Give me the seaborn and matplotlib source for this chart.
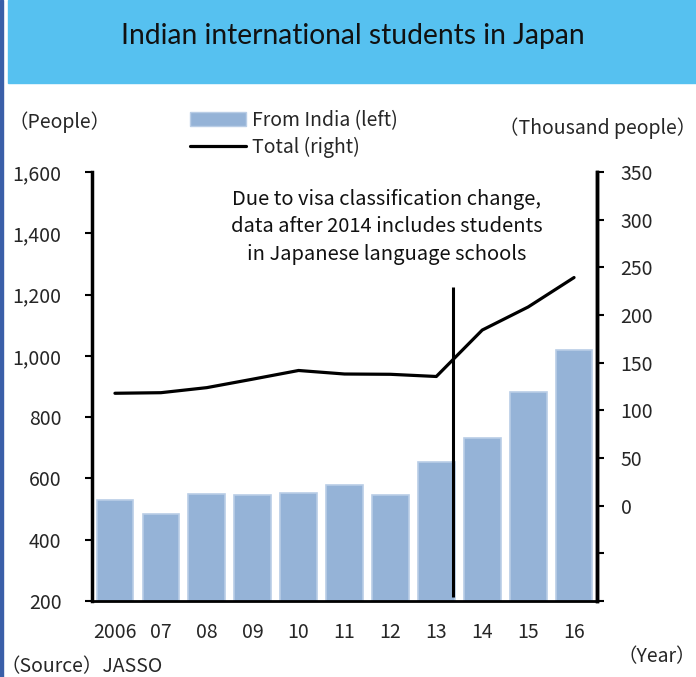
import numpy as np
import pandas as pd
import matplotlib
matplotlib.use("Agg")
import matplotlib.pyplot as plt
import seaborn as sns
from matplotlib.patches import Rectangle
from matplotlib.lines import Line2D

years = ["2006", "07", "08", "09", "10", "11", "12", "13", "14", "15", "16"]
india = [530, 484, 548, 547, 551, 578, 545, 653, 731, 883, 1018]
total = [117.9, 118.5, 123.8, 132.7, 141.8, 138.1, 137.8, 135.5, 184.2, 208.4, 239.3]
left_ticks = [200, 400, 600, 800, 1000, 1200, 1400, 1600]
right_ticks = [-100, -50, 0, 50, 100, 150, 200, 250, 300, 350]

sns.set_theme(style="white")
plt.rcParams['font.family'] = ['Noto Sans CJK JP', 'DejaVu Sans']

W, H = 696, 677
FS = 14
fig = plt.figure(figsize=(W / 100, H / 100), dpi=100)

# title band
fig.patches.append(Rectangle((8 / W, 1 - 83 / H), 1 - 8 / W, 83 / H,
                             transform=fig.transFigure, color="#56C1F0", zorder=0))
fig.patches.append(Rectangle((0, 0), 3 / W, 1, transform=fig.transFigure,
                             color="#3A5FA8", zorder=0))
fig.text(353 / W, 1 - 36 / H, "Indian international students in Japan",
         ha="center", va="center", fontsize=20.3, family=["Lato", "DejaVu Sans"],
         color="#111111")

ax = fig.add_axes([92 / W, 76 / H, 505 / W, 429 / H])
df = pd.DataFrame({"year": years, "india": india})
sns.barplot(data=df, x="year", y="india", ax=ax, color="#95B3D7",
            saturation=1, width=0.8, edgecolor="#B9CDE6", linewidth=1.2)
ax.set_ylim(200, 1600)
ax.set_xlim(-0.5, 10.5)
ax.set_yticks(left_ticks)
ax.set_yticklabels([f"{v:,}" for v in left_ticks])
ax.set_xlabel("")
ax.set_ylabel("")
ax.set_xticks(range(len(years)))
ax.set_xticklabels(years)
ax.set_xticks(np.arange(-0.5, 11, 1), minor=True)
ax.tick_params(axis="x", which="major", length=0, pad=15, labelsize=FS)
ax.tick_params(axis="x", which="minor", length=6, width=1.3, direction="out", color="black")
ax.tick_params(axis="y", length=5, width=1.5, direction="out", pad=17, labelsize=FS, color="black", left=True)

for s in ["left", "right", "bottom"]:
    ax.spines[s].set_visible(True)
    ax.spines[s].set_color("black")
ax.spines["left"].set_linewidth(2.5)
ax.spines["right"].set_linewidth(2.5)
ax.spines["bottom"].set_linewidth(2)
ax.spines["top"].set_visible(False)

# vertical divider line
ax.vlines(7.36, 213, 1225, color="black", linewidth=2.2, zorder=5)

ax2 = ax.twinx()
sns.lineplot(x=np.arange(len(years)), y=total, ax=ax2, color="black", linewidth=2.3)
ax2.set_ylim(-100, 350)
ax2.set_yticks(right_ticks)
ax2.set_yticklabels([str(v) if v >= 0 else "" for v in right_ticks])
ax2.tick_params(axis="y", length=5, width=1.5, direction="out", pad=12, labelsize=FS, color="black", right=True)
ax2.set_xlim(-0.5, 10.5)
for s in ["left", "top", "bottom"]:
    ax2.spines[s].set_visible(False)
ax2.spines["right"].set_linewidth(2.5)
ax2.spines["right"].set_color("black")

# annotations
fig.text(387 / W, 1 - 227 / H,
         "Due to visa classification change,\ndata after 2014 includes students\nin Japanese language schools",
         ha="center", va="center", fontsize=14.5, linespacing=1.42, color="#111111")
fig.text(8 / W, 1 - 122 / H, "（People）", ha="left", va="center", fontsize=FS)
fig.text(696 / W, 1 - 128 / H, "（Thousand people）", ha="right", va="center", fontsize=FS)
fig.text(696 / W, 1 - 657 / H, "（Year）", ha="right", va="center", fontsize=FS)
fig.text(0 / W, 1 - 667 / H, "（Source）JASSO", ha="left", va="center", fontsize=FS)

# legend
handles = [Rectangle((0, 0), 1, 1, facecolor="#95B3D7", edgecolor="#B9CDE6"),
           Line2D([0], [0], color="black", linewidth=2.3)]
fig.legend(handles, ["From India (left)", "Total (right)"],
           loc="upper left", bbox_to_anchor=(190 / W, 1 - 110 / H),
           frameon=False, fontsize=FS, handlelength=2.9, handleheight=0.7,
           handletextpad=0.3, labelspacing=0.3, borderpad=0, borderaxespad=0)

fig.savefig("out.png", dpi=100)
